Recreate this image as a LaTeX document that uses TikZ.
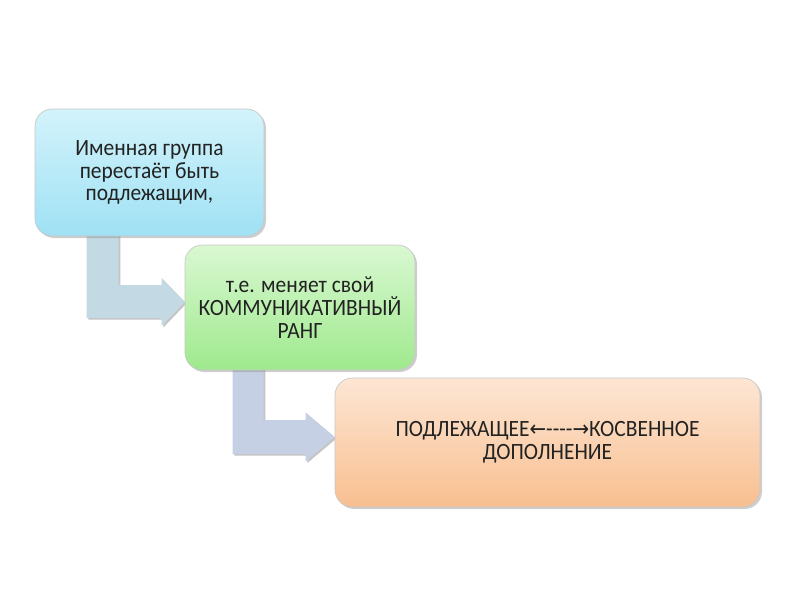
\documentclass[tikz,border=0pt]{standalone}
\usepackage{fontspec}
\setmainfont{Carlito}[FakeStretch=0.92]
\newfontfamily\arrfont{DejaVu Sans}[FakeStretch=0.9]
\usetikzlibrary{shadows,calc}
\pgfdeclarelayer{bg}
\pgfsetlayers{bg,main}
\definecolor{b1top}{HTML}{D3F3FB}
\definecolor{b1bot}{HTML}{9FE1F4}
\definecolor{b2top}{HTML}{D9F8D2}
\definecolor{b2bot}{HTML}{9FE98D}
\definecolor{b3top}{HTML}{FDE6D4}
\definecolor{b3bot}{HTML}{F8BF90}
\definecolor{arA}{HTML}{C3D9E3}
\definecolor{arB}{HTML}{C6D0E5}
\definecolor{txt}{HTML}{222222}
\begin{document}
\begin{tikzpicture}[x=0.75pt,y=-0.75pt,
  box/.style={rounded corners=13pt, draw=black!22, line width=0.5pt, align=center,
    inner sep=0pt, text=txt, font=\fontsize{17.5pt}{17pt}\selectfont,
    drop shadow={shadow xshift=1.5pt,shadow yshift=-1.5pt,opacity=0.38}},
  barrow/.style={draw=none, drop shadow={shadow xshift=1.2pt,shadow yshift=-1.2pt,opacity=0.45}}]
\begin{pgfonlayer}{bg}
\fill[white] (0,0) rectangle (800,600);
\end{pgfonlayer}
\useasboundingbox (0,0) rectangle (800,600);

\node[box, top color=b1top, bottom color=b1bot, minimum width=171.75pt, minimum height=95.25pt]
  (b1) at (149.5,172.5) {Именная группа\\перестаёт быть\\подлежащим,};
\node[box, top color=b2top, bottom color=b2bot, minimum width=172.5pt, minimum height=93.75pt]
  (b2) at (300,307.5) {т.е. меняет свой\\КОММУНИКАТИВНЫЙ\\РАНГ};
\node[box, top color=b3top, bottom color=b3bot, minimum width=318.75pt, minimum height=96.75pt]
  (b3) at (547.5,442.5) {ПОДЛЕЖАЩЕЕ{\arrfont\fontsize{16.5pt}{17pt}\selectfont ←}{-}{-}{-}{-}{\arrfont\fontsize{16.5pt}{17pt}\selectfont →}КОСВЕННОЕ\\ДОПОЛНЕНИЕ};

% arrow 1
\coordinate (t1) at ($(b2.west)+(0,-5.5)$);
\coordinate (s1a) at ($(b1.south west)+(52,-5)$);
\coordinate (s1b) at ($(b1.south west)+(84,-5)$);
\coordinate (h1a) at ($(t1)+(-23,-17)$);
\coordinate (h1b) at ($(t1)+(-23,16)$);
% arrow 2
\coordinate (t2) at ($(b3.west)+(0,-5.5)$);
\coordinate (s2a) at ($(b2.south west)+(48,-5)$);
\coordinate (s2b) at ($(b2.south west)+(79,-5)$);
\coordinate (h2a) at ($(t2)+(-29,-17)$);
\coordinate (h2b) at ($(t2)+(-29,17)$);

\begin{pgfonlayer}{bg}
\fill[arA, barrow] (s1a) -- (s1b) -- (s1b |- h1a) -- (h1a) -- ($(h1a)+(0,-7)$) -- (t1)
  -- ($(h1b)+(0,8)$) -- (h1b) -- (s1a |- h1b) -- cycle;
\fill[arB, barrow] (s2a) -- (s2b) -- (s2b |- h2a) -- (h2a) -- ($(h2a)+(0,-7.5)$) -- (t2)
  -- ($(h2b)+(0,7.5)$) -- (h2b) -- (s2a |- h2b) -- cycle;
\end{pgfonlayer}
\end{tikzpicture}
\end{document}
